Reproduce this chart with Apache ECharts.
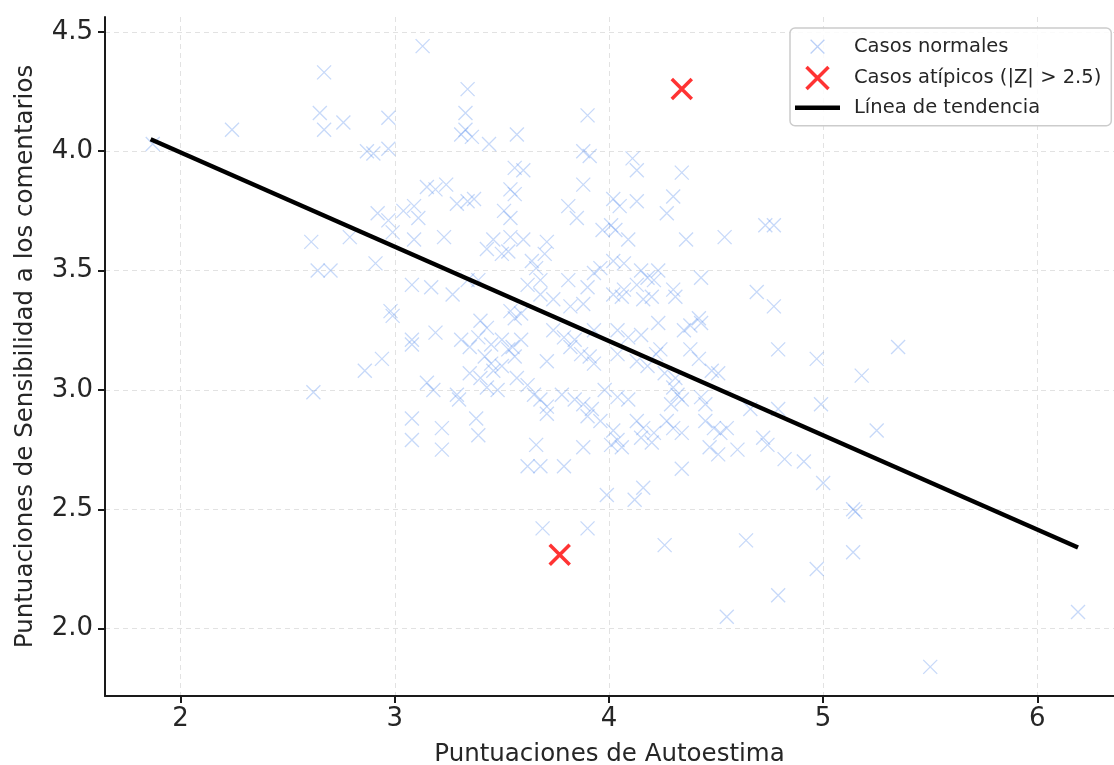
<!DOCTYPE html>
<html>
<head>
<meta charset="utf-8">
<script src="https://cdn.jsdelivr.net/npm/echarts@6/dist/echarts.min.js"></script>
<style>
html,body{margin:0;padding:0;background:#fff;}
#chart{width:1114px;height:765px;}
</style>
</head>
<body>
<div id="chart"></div>
<script>
// ---- data ----
const casosNormales = [
[3.13,4.44],[2.67,4.33],[3.34,4.26],[2.65,4.16],[2.67,4.09],[2.76,4.12],[2.24,4.09],[2.97,4.14],[3.33,4.16],[3.33,4.09],[3.31,4.07],[3.36,4.06],[3.44,4.03],[3.57,4.07],[3.90,4.15],[1.87,4.03],[2.87,4.00],[2.90,3.99],[2.97,4.01],[3.88,4.00],[3.91,3.98],[4.11,3.97],[4.13,3.92],[4.34,3.91],[3.56,3.93],[3.60,3.92],[3.88,3.86],[3.54,3.84],[3.56,3.82],[3.15,3.85],[3.19,3.84],[3.24,3.86],[3.29,3.78],[3.34,3.79],[3.37,3.80],[2.92,3.74],[2.97,3.71],[3.04,3.75],[3.09,3.77],[3.11,3.72],[3.51,3.75],[3.54,3.72],[3.81,3.77],[3.85,3.72],[4.02,3.80],[4.05,3.77],[4.13,3.79],[4.30,3.81],[4.27,3.74],[4.01,3.69],[4.03,3.67],[4.09,3.63],[4.36,3.63],[4.54,3.64],[4.73,3.69],[4.77,3.69],[2.61,3.62],[2.79,3.64],[3.97,3.67],[2.99,3.66],[3.09,3.63],[3.23,3.64],[3.46,3.63],[3.54,3.64],[3.60,3.63],[3.71,3.62],[2.64,3.50],[2.70,3.50],[2.62,2.99],
[2.91,3.53],[3.08,3.44],[3.17,3.43],[3.27,3.40],[2.98,3.33],[2.99,3.31],[3.08,3.21],[3.08,3.19],[3.19,3.24],[2.86,3.08],[2.94,3.13],[3.15,3.03],[3.18,3.00],[3.29,2.98],[3.30,2.96],[3.08,2.88],[3.08,2.79],[3.22,2.84],[3.22,2.75],[3.38,2.88],[3.39,2.81],[3.31,3.21],[3.35,3.18],[3.39,3.22],[3.40,3.29],[3.43,3.26],[3.45,3.19],[3.50,3.21],[3.55,3.18],[3.59,3.21],[3.42,3.14],[3.45,3.11],[3.46,3.08],[3.50,3.10],[3.35,3.07],[3.40,3.05],[3.43,3.01],[3.48,3.00],[3.54,3.33],[3.56,3.30],[3.59,3.32],[3.53,3.17],[3.56,3.14],[3.57,3.05],[3.62,3.02],[3.65,2.98],[3.68,2.96],[3.71,2.93],[3.71,2.90],[3.71,3.12],[3.66,2.77],[3.62,2.68],[3.68,2.68],[3.79,2.68],[3.88,2.76],[3.78,2.98],[3.84,2.96],[3.88,2.94],[3.92,2.92],[3.90,2.89],[3.96,2.87],[3.74,3.25],[3.79,3.22],[3.84,3.21],[3.82,3.18],[3.87,3.15],[3.91,3.14],[3.93,3.11],[3.93,3.25],[3.43,3.59],[3.50,3.57],[3.53,3.58],[3.64,3.54],[3.66,3.51],[3.70,3.57],[3.81,3.46],[3.90,3.43],[3.93,3.49],[3.96,3.51],[3.68,3.40],[3.74,3.38],[3.82,3.35],[3.88,3.36],[3.62,3.44],[3.68,3.46],[3.34,3.46],[3.39,3.46],
[4.43,3.47],[4.69,3.41],[4.77,3.35],[4.79,3.17],[4.97,3.13],[4.99,2.94],[4.02,3.54],[4.07,3.53],[4.15,3.50],[4.18,3.47],[4.23,3.50],[4.21,3.46],[4.13,3.44],[4.02,3.40],[4.06,3.39],[4.07,3.42],[4.16,3.38],[4.20,3.39],[4.30,3.42],[4.31,3.39],[4.23,3.28],[4.35,3.25],[4.38,3.27],[4.42,3.30],[4.43,3.28],[4.04,3.25],[4.09,3.22],[4.15,3.23],[4.04,3.15],[4.22,3.15],[4.24,3.17],[4.38,3.17],[4.42,3.13],[4.13,3.12],[4.18,3.10],[4.26,3.07],[4.31,3.05],[4.48,3.08],[4.51,3.07],[3.98,3.00],[4.04,2.97],[4.09,2.96],[4.30,3.01],[4.32,2.98],[4.34,2.96],[4.29,2.94],[4.43,2.97],[4.45,2.94],[4.02,2.83],[4.04,2.79],[4.06,2.76],[4.01,2.77],[4.13,2.87],[4.16,2.84],[4.21,2.82],[4.15,2.80],[4.20,2.78],[4.27,2.87],[4.30,2.84],[4.34,2.82],[4.45,2.87],[4.49,2.84],[4.55,2.84],[4.52,2.82],[4.66,2.92],[4.72,2.80],[4.74,2.77],[4.79,2.92],[4.47,2.76],[4.51,2.73],[4.60,2.75],[4.82,2.71],[4.91,2.70],[4.34,2.67],
[5.35,3.18],[5.18,3.06],[5.25,2.83],[3.69,2.42],[3.90,2.42],[3.99,2.56],[4.12,2.54],[4.16,2.59],[4.26,2.35],[4.64,2.37],[4.97,2.25],[4.79,2.14],[4.55,2.05],[5.00,2.61],[5.14,2.50],[5.15,2.49],[5.14,2.32],[6.19,2.07],[5.50,1.84]
];
const casosAtipicos = [[4.34,4.26],[3.77,2.31]];
const lineaTendencia = [[1.86,4.05],[6.19,2.34]];
const xTicks = [2,3,4,5,6];
const yTicks = [2.0,2.5,3.0,3.5,4.0,4.5];
const nombres = ['Casos normales','Casos atípicos (|Z| > 2.5)','Línea de tendencia'];
const xTitulo = 'Puntuaciones de Autoestima';
const yTitulo = 'Puntuaciones de Sensibilidad a los comentarios';

// ---- chart ----
const FONT = 'DejaVu Sans';
const X_PATH = 'path://M0,0L10,10M10,0L0,10';
const X_PATH_SMALL = 'path://M-3,-3M0,0L10,10M10,0L0,10M13,13';
const LINE_ICON = 'path://M0,0L10,0L10,1L0,1Z';
const axisCommon = {
  type: 'value',
  axisLine: {show: true, onZero: false, lineStyle: {color: '#1a1a1a', width: 2}},
  splitLine: {show: true, lineStyle: {color: '#e2e2e2', width: 1, type: [5, 4]}},
  nameLocation: 'middle',
  nameTextStyle: {fontFamily: FONT, fontSize: 24.5, color: '#262626'}
};
const chart = echarts.init(document.getElementById('chart'), null, {renderer: 'canvas'});
chart.setOption({
  animation: false,
  backgroundColor: '#ffffff',
  grid: {left: 105, right: 0, top: 17, bottom: 69, containLabel: false, outerBoundsMode: 'none'},
  xAxis: Object.assign({}, axisCommon, {
    min: 1.647, max: 6.358,
    name: xTitulo, nameGap: 46,
    axisTick: {show: true, inside: false, length: 7, lineStyle: {color: '#1a1a1a', width: 2}, customValues: xTicks},
    axisLabel: {customValues: xTicks, fontFamily: FONT, fontSize: 26, color: '#262626', margin: 10,
      formatter: v => String(Math.round(v))}
  }),
  yAxis: Object.assign({}, axisCommon, {
    min: 1.718, max: 4.562,
    name: yTitulo, nameGap: 67,
    axisTick: {show: true, inside: false, length: 7, lineStyle: {color: '#1a1a1a', width: 2}, customValues: yTicks},
    axisLabel: {customValues: yTicks, fontFamily: FONT, fontSize: 26, color: '#262626', margin: 12,
      formatter: v => Number(v).toFixed(1)}
  }),
  legend: {
    orient: 'vertical',
    left: 790, top: 28,
    padding: [7, 10, 8, 5],
    itemWidth: 45, itemHeight: 22, itemGap: 7,
    backgroundColor: 'rgba(255,255,255,0.85)',
    borderColor: '#cccccc', borderWidth: 1.5, borderRadius: 5,
    textStyle: {fontFamily: FONT, fontSize: 19.5, color: '#262626', padding: [0, 0, 0, 9]},
    data: [
      {name: nombres[0], icon: X_PATH_SMALL, itemStyle: {color: 'transparent', borderColor: 'rgba(100,149,237,0.55)', borderWidth: 1.3}},
      {name: nombres[1], icon: X_PATH, itemStyle: {color: 'transparent', borderColor: '#ff0000', borderWidth: 3.5}},
      {name: nombres[2], icon: LINE_ICON, itemStyle: {color: '#000000', borderWidth: 0}}
    ]
  },
  series: [
    {
      name: nombres[0], type: 'scatter', data: casosNormales,
      symbol: X_PATH, symbolSize: 14,
      itemStyle: {color: 'transparent', borderColor: 'rgba(100,149,237,0.45)', borderWidth: 1.3},
      z: 2
    },
    {
      name: nombres[1], type: 'scatter', data: casosAtipicos,
      symbol: X_PATH, symbolSize: 20,
      itemStyle: {color: 'transparent', borderColor: '#ff0000', borderWidth: 3.5},
      z: 3
    },
    {
      name: nombres[2], type: 'line', data: lineaTendencia,
      symbol: 'none', showSymbol: false,
      itemStyle: {color: '#000000'},
      lineStyle: {color: '#000000', width: 4.5},
      z: 4
    }
  ]
});
</script>
</body>
</html>
